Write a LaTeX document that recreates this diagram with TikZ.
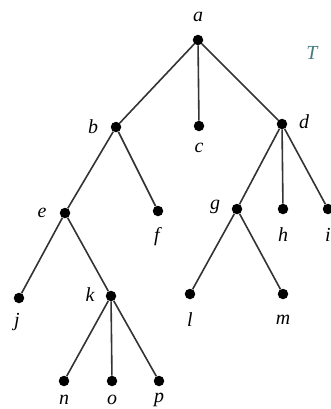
\documentclass[tikz,border=0pt]{standalone}
\usepackage{fontspec}
\setmainfont{Liberation Serif}
\definecolor{tcol}{RGB}{70,125,125}
\begin{document}
\begin{tikzpicture}[x=1bp,y=-1bp,
  vtx/.style={circle,fill=black,inner sep=0pt,minimum size=10.5bp},
  lbl/.style={font=\fontsize{20}{20}\selectfont\itshape,inner sep=0pt},
  edge/.style={line width=1.6bp,black!80}]
\useasboundingbox (0,0) rectangle (331,409);
\node[vtx] (a) at (198,40) {};
\node[vtx] (b) at (116,127) {};
\node[vtx] (c) at (199,126) {};
\node[vtx] (d) at (282,124) {};
\node[vtx] (e) at (65,213) {};
\node[vtx] (f) at (158,211) {};
\node[vtx] (g) at (237,209) {};
\node[vtx] (h) at (283,209) {};
\node[vtx] (i) at (328,209) {};
\node[vtx] (j) at (19,298) {};
\node[vtx] (k) at (111,296) {};
\node[vtx] (l) at (190,294) {};
\node[vtx] (m) at (283,294) {};
\node[vtx] (n) at (64,381) {};
\node[vtx] (o) at (112,381) {};
\node[vtx] (p) at (159,381) {};
\foreach \u/\v in {a/b,a/c,a/d,b/e,b/f,d/g,d/h,d/i,e/j,e/k,g/l,g/m,k/n,k/o,k/p}
  \draw[edge] (\u) -- (\v);
\node[lbl] (la) at (198,17) {a};
\node[lbl] (lb) at (93,127) {b};
\node[lbl] (lc) at (199,148) {c};
\node[lbl] (ld) at (304,122) {d};
\node[lbl] (le) at (42,213) {e};
\node[lbl] (lf) at (157,237) {f};
\node[lbl] (lg) at (215,207) {g};
\node[lbl] (lh) at (283,235) {h};
\node[lbl] (li) at (328,235) {i};
\node[lbl] (lj) at (17,322) {j};
\node[lbl] (lk) at (90,295) {k};
\node[lbl] (ll) at (190,320) {l};
\node[lbl] (lm) at (283,320) {m};
\node[lbl] (ln) at (64,400) {n};
\node[lbl] (lo) at (112,400) {o};
\node[lbl] (lp) at (159,400) {p};
\node[lbl,text=tcol] (T) at (312,53) {T};
\end{tikzpicture}
\end{document}
